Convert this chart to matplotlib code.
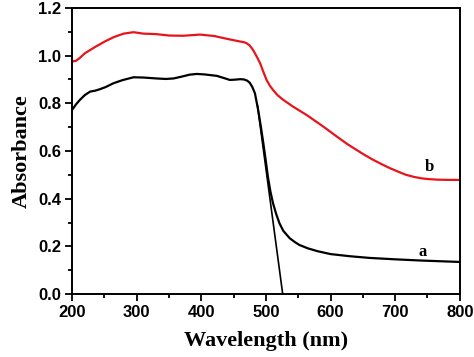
import matplotlib
matplotlib.use("Agg")
import matplotlib.pyplot as plt
from matplotlib.ticker import MultipleLocator

# Curve a (black)
wl_a = [200, 206, 212, 220, 228, 236, 243, 252, 264, 278, 295, 310, 331, 345, 357, 370, 382, 393, 405, 424, 436, 444, 452, 460, 466, 471, 475, 479, 483, 488, 492, 496, 500, 503, 507, 511, 516, 521, 527, 537, 545, 552, 565, 580, 600, 630, 660, 700, 740, 770, 800]
abs_a = [0.772, 0.795, 0.814, 0.835, 0.849, 0.853, 0.859, 0.868, 0.884, 0.897, 0.909, 0.908, 0.904, 0.902, 0.904, 0.912, 0.920, 0.923, 0.921, 0.915, 0.905, 0.898, 0.899, 0.901, 0.900, 0.895, 0.886, 0.868, 0.842, 0.772, 0.705, 0.633, 0.555, 0.493, 0.430, 0.381, 0.335, 0.297, 0.265, 0.234, 0.218, 0.206, 0.192, 0.180, 0.168, 0.159, 0.152, 0.146, 0.141, 0.138, 0.135]

# Curve b (red)
wl_b = [200, 206, 212, 220, 235, 250, 265, 280, 295, 310, 330, 350, 372, 398, 420, 440, 460, 466, 470, 475, 480, 486, 491, 496, 501, 506, 511, 518, 527, 542, 563, 589, 609, 626, 640, 653, 666, 679, 692, 705, 717, 730, 742, 753, 765, 780, 800]
abs_b = [0.975, 0.978, 0.990, 1.010, 1.035, 1.058, 1.078, 1.092, 1.098, 1.092, 1.090, 1.084, 1.083, 1.088, 1.082, 1.070, 1.059, 1.056, 1.052, 1.042, 1.024, 0.995, 0.968, 0.932, 0.898, 0.874, 0.856, 0.834, 0.814, 0.786, 0.751, 0.702, 0.662, 0.629, 0.605, 0.583, 0.563, 0.545, 0.528, 0.513, 0.500, 0.491, 0.485, 0.482, 0.480, 0.479, 0.479]

# Tangent line for band edge
tan_x = [487, 526]
tan_y = [0.79, 0.0]

xticks = [200, 300, 400, 500, 600, 700, 800]
yticks = [0.0, 0.2, 0.4, 0.6, 0.8, 1.0, 1.2]

fig = plt.figure(figsize=(4.74, 3.57), dpi=100)
ax = fig.add_axes([0.152, 0.176, 0.818, 0.802])

ax.plot(wl_a, abs_a, color="black", lw=1.6)
ax.plot(wl_b, abs_b, color="#e8141c", lw=1.6)
ax.plot(tan_x, tan_y, color="black", lw=1.2)

ax.set_xlim(200, 800)
ax.set_ylim(0.0, 1.2)
ax.set_xticks(xticks)
ax.set_yticks(yticks)
ax.set_xticklabels([str(v) for v in xticks])
ax.set_yticklabels([f"{v:.1f}" for v in yticks])
ax.xaxis.set_minor_locator(MultipleLocator(50))
ax.yaxis.set_minor_locator(MultipleLocator(0.1))
ax.tick_params(which="both", direction="out", top=False, right=False, width=1.3)
ax.tick_params(which="major", length=5, pad=3)
ax.tick_params(which="minor", length=3)
for lab in ax.get_xticklabels() + ax.get_yticklabels():
    lab.set_fontfamily("Liberation Sans")
    lab.set_fontweight("bold")
    lab.set_fontsize(12)
for s in ax.spines.values():
    s.set_linewidth(1.4)

ax.set_xlabel("Wavelength (nm)", fontfamily="Liberation Serif", fontweight="bold", fontsize=16, labelpad=8)
ax.set_ylabel("Absorbance", fontfamily="Liberation Serif", fontweight="bold", fontsize=16, labelpad=4)

ax.text(742, 0.175, "a", fontfamily="Liberation Serif", fontweight="bold", fontsize=12, ha="center", va="center")
ax.text(753, 0.535, "b", fontfamily="Liberation Serif", fontweight="bold", fontsize=12, ha="center", va="center")

fig.savefig("out.png", dpi=100)
